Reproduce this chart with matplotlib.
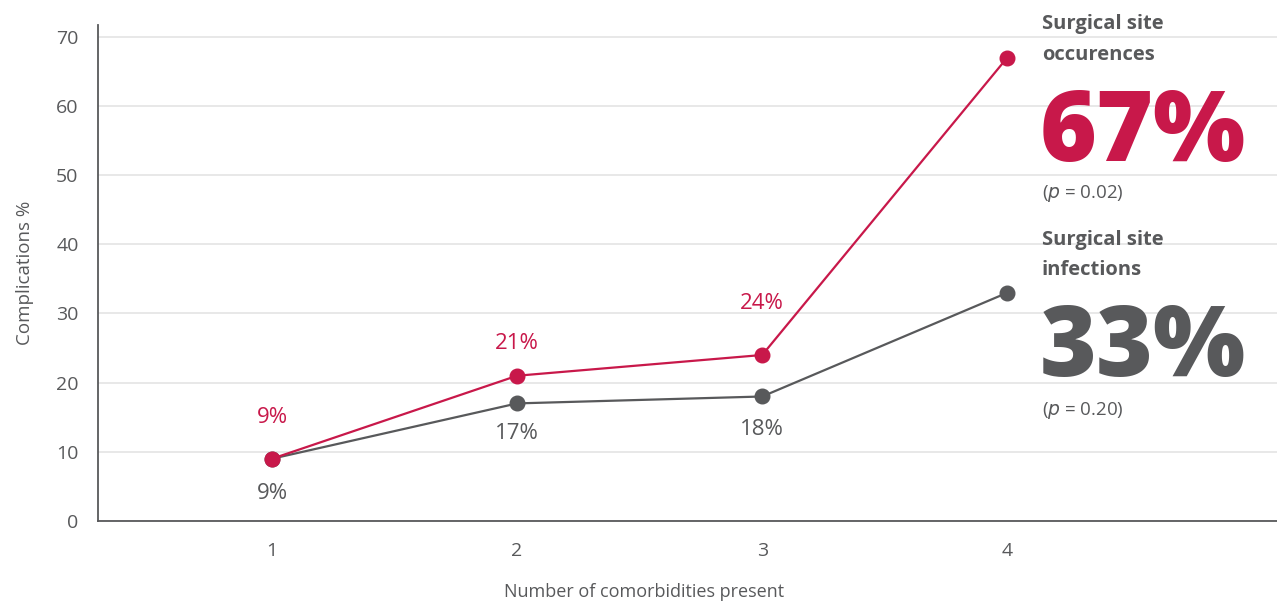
import matplotlib.pyplot as plt

plt.rcParams['font.family'] = ['Open Sans', 'DejaVu Sans']

comorbidities = [1, 2, 3, 4]
occurrences = [9, 21, 24, 67]
infections = [9, 17, 18, 33]
occ_labels = ['9%', '21%', '24%']
inf_labels = ['9%', '17%', '18%']

red = '#c8184a'
grey = '#58595b'
light = '#e6e6e6'

fig = plt.figure(figsize=(12.77, 6.04), dpi=100)
ax = fig.add_axes([0.0767, 0.1374, 0.9233, 0.8212])

ax.plot(comorbidities, occurrences, color=red, lw=1.6, marker='o', ms=10.5, zorder=4)
ax.plot(comorbidities, infections, color=grey, lw=1.6, marker='o', ms=10.5, zorder=3)

# value labels: red above, grey below (offsets in points)
occ_offsets = [30, 23, 37]
inf_offsets = [-25, -22, -24]
for x, y, s, dy in zip(comorbidities, occurrences, occ_labels, occ_offsets):
    ax.annotate(s, (x, y), xytext=(0, dy), textcoords='offset points',
                ha='center', va='center', color=red, fontsize=16)
for x, y, s, dy in zip(comorbidities, infections, inf_labels, inf_offsets):
    ax.annotate(s, (x, y), xytext=(0, dy), textcoords='offset points',
                ha='center', va='center', color=grey, fontsize=16)

# right-hand callouts
tx = 4.14
head = dict(color=grey, fontsize=14.5, fontweight='bold', va='center', ha='left',
            clip_on=False)
ax.text(tx, 71.9, 'Surgical site', **head)
ax.text(tx, 67.4, 'occurences', **head)
ax.text(tx - 0.01, 52.0, '67%', color=red, fontsize=70, fontweight='heavy',
        va='baseline', ha='left')
ax.text(tx, 47.4, '($p$ = 0.02)', color=grey, fontsize=13.5, va='center', ha='left')
ax.text(tx, 40.6, 'Surgical site', **head)
ax.text(tx, 36.3, 'infections', **head)
ax.text(tx - 0.01, 20.9, '33%', color=grey, fontsize=70, fontweight='heavy',
        va='baseline', ha='left')
ax.text(tx, 16.0, '($p$ = 0.20)', color=grey, fontsize=13.5, va='center', ha='left')

ax.set_xlim(0.29, 5.1)
ax.set_ylim(0, 71.7)
ax.set_xticks(comorbidities)
ax.set_yticks(range(0, 71, 10))
ax.tick_params(length=0, labelsize=14, labelcolor=grey)
ax.tick_params(axis='x', pad=15)
ax.tick_params(axis='y', pad=14)
ax.grid(axis='y', color=light, lw=1.3)
ax.set_axisbelow(True)
for side in ['top', 'right']:
    ax.spines[side].set_visible(False)
for side in ['left', 'bottom']:
    ax.spines[side].set_color(grey)
    ax.spines[side].set_linewidth(1.3)

ax.set_xlabel('Number of comorbidities present', color=grey, fontsize=13)
ax.set_ylabel('Complications %', color=grey, fontsize=13.5, labelpad=16)
ax.xaxis.set_label_coords(0.463, -0.124)

fig.savefig('out.png', dpi=100)
